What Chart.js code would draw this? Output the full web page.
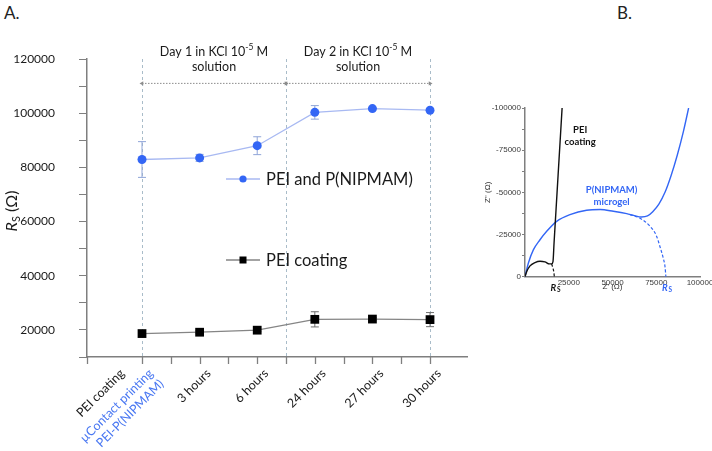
<!DOCTYPE html>
<html>
<head>
<meta charset="utf-8">
<script src="https://cdn.jsdelivr.net/npm/chart.js@4.4.1/dist/chart.umd.min.js"></script>
<style>
  html, body { margin: 0; padding: 0; background: #fff; overflow: hidden; width: 712px; height: 451px; }
  #left { position: absolute; left: 0; top: 0; width: 480px; height: 451px; }
  #right { position: absolute; left: 478px; top: 95px; width: 240px; height: 200px; }
  .panel { position: absolute; font-family: Lato, sans-serif; font-size: 17px; color: #222; }
</style>
</head>
<body>
<div class="panel" style="left:4px;top:2px">A.</div>
<div class="panel" style="left:617px;top:2px">B.</div>
<div id="left"><canvas id="timeChart"></canvas></div>
<div id="right"><canvas id="nyquistChart"></canvas></div>
<script>
// ---- panel A: Rs after each step ----
const stepX = [1, 2, 3, 4, 5, 6];
const stepLabels = [['µContact printing', 'PEI-P(NIPMAM)'], '3 hours', '6 hours', '24 hours', '27 hours', '30 hours'];
const startLabel = 'PEI coating';
const microgelRs = [82900, 83500, 88000, 100300, 101700, 101100];
const microgelErr = [6600, 1300, 3300, 2500, 500, 500];
const coatingRs = [18650, 19150, 19900, 23900, 24000, 23800];
const coatingErr = [500, 500, 500, 2800, 600, 2600];

const dayNames = ['Day 1', 'Day 2'];
const dayStart = [1, 3.5];
const dayEnd = [3.5, 6];
const daySpanRs = 111000;

// ---- panel B: Nyquist curves ----
const coatingZre = [0, 950, 2860, 5700, 8600, 11400, 13900, 15200, 16000, 16600, 17750, 18900, 20050, 21200];
const coatingZim = [0, -3000, -6400, -8400, -9200, -8800, -7600, -7600, -9000, -20000, -40000, -60000, -80000, -100000];
const coatingArcZre = [15200, 16000, 16500, 16760];
const coatingArcZim = [-7600, -5000, -2500, 0];
const microgelZre = [0, 1900, 4760, 8570, 12400, 18100, 25700, 35200, 42900, 50500, 58100, 62500, 66500, 70000, 73000, 76500, 80000, 83500, 87000, 90500, 93500];
const microgelZim = [0, -8000, -15900, -21900, -26900, -32800, -36800, -39400, -39800, -38800, -37400, -36200, -35400, -36000, -38500, -43000, -50000, -60000, -72000, -86000, -100000];
const microgelArcZre = [60000, 66000, 71400, 75000, 77100, 79000, 80000, 80500];
const microgelArcZim = [-36800, -34500, -29900, -24500, -17900, -11000, -6000, 0];

const axisGray = '#7f7f7f';
const seriesBlue = '#3366f5';
const labelBlue = '#4a78f2';
const guideColor = '#a9bcc9';
const xMin = 0.045, xMax = 6.642;
const guideAt = [1, 3.5, 6];

const pts = (xs, ys) => xs.map((v, i) => ({x: v, y: ys[i]}));

// error bars drawn through the chart scales
const errorBars = {
  id: 'errorBars',
  beforeDatasetsDraw(chart) {
    const {ctx, scales: {x, y}} = chart;
    chart.data.datasets.forEach(ds => {
      if (!ds.errors) return;
      ctx.save();
      ctx.strokeStyle = ds.errorColor;
      ctx.lineWidth = 1;
      ds.data.forEach((p, j) => {
        const px = x.getPixelForValue(p.x);
        const top = y.getPixelForValue(p.y + ds.errors[j]);
        const bot = y.getPixelForValue(p.y - ds.errors[j]);
        ctx.beginPath();
        ctx.moveTo(px, top); ctx.lineTo(px, bot);
        ctx.moveTo(px - 4, top); ctx.lineTo(px + 4, top);
        ctx.moveTo(px - 4, bot); ctx.lineTo(px + 4, bot);
        ctx.stroke();
      });
      ctx.restore();
    });
  }
};

// x axis tick marks (drawn on the axis, skipping the spot under "PEI coating")
const xTickMarks = {
  id: 'xTickMarks',
  afterDraw(chart) {
    const {ctx, scales: {x}} = chart;
    ctx.save();
    ctx.strokeStyle = axisGray;
    ctx.lineWidth = 1.3;
    x.ticks.forEach(t => {
      if (t.value === 0.5) return;
      const px = Math.round(x.getPixelForValue(t.value)) + 0.5;
      ctx.beginPath(); ctx.moveTo(px, x.top); ctx.lineTo(px, x.top + 7); ctx.stroke();
    });
    ctx.restore();
  }
};

// "Day n in KCl 10-5 M solution" headers and the floating legend
const panelText = {
  id: 'panelText',
  afterDatasetsDraw(chart) {
    const {ctx, chartArea, scales: {x}} = chart;
    ctx.save();
    ctx.fillStyle = '#1a1a1a';
    ctx.textBaseline = 'middle';
    dayNames.forEach((name, i) => {
      const cx = (x.getPixelForValue(dayStart[i]) + x.getPixelForValue(dayEnd[i])) / 2;
      const main = name + ' in KCl 10', sup = '-5', tail = ' M';
      ctx.font = '12.5px Lato';
      const w1 = ctx.measureText(main).width, w3 = ctx.measureText(tail).width;
      ctx.font = '8.5px Lato';
      const w2 = ctx.measureText(sup).width;
      const left = cx - (w1 + w2 + w3) / 2;
      const y1 = chartArea.top - 7;
      ctx.textAlign = 'left';
      ctx.font = '12.5px Lato';
      ctx.fillText(main, left, y1);
      ctx.fillText(tail, left + w1 + w2, y1);
      ctx.font = '8.5px Lato';
      ctx.fillText(sup, left + w1, y1 - 4.5);
      ctx.textAlign = 'center';
      ctx.font = '12.5px Lato';
      ctx.fillText('solution', cx, chartArea.top + 8);
    });

    // legend entries placed inside the plot like the original
    const spots = [[226, 179], [226, 260]];
    [0, 1].forEach((di, k) => {
      const ds = chart.data.datasets[di];
      const [lx, ly] = spots[k];
      ctx.strokeStyle = ds.borderColor;
      ctx.lineWidth = ds.borderWidth;
      ctx.beginPath(); ctx.moveTo(lx, ly); ctx.lineTo(lx + 34, ly); ctx.stroke();
      ctx.fillStyle = ds.pointBackgroundColor;
      if (ds.pointStyle === 'rect') {
        ctx.fillRect(lx + 17 - 3.5, ly - 3.5, 7, 7);
      } else {
        ctx.beginPath(); ctx.arc(lx + 17, ly, 3.6, 0, Math.PI * 2); ctx.fill();
      }
      ctx.fillStyle = '#1a1a1a';
      ctx.textAlign = 'left';
      ctx.font = '16.5px Lato';
      ctx.fillText(ds.label, lx + 40, ly + 1);
    });

    // y axis title: R_S (Ω)
    ctx.translate(12, 211);
    ctx.rotate(-Math.PI / 2);
    ctx.font = 'italic 16px Lato';
    const wR = ctx.measureText('R').width;
    ctx.font = '11px Lato';
    const wS = ctx.measureText('S').width;
    ctx.font = '16px Lato';
    const wU = ctx.measureText(' (Ω)').width;
    const sx = -(wR + wS + wU) / 2;
    ctx.textAlign = 'left';
    ctx.font = 'italic 16px Lato';
    ctx.fillText('R', sx, 0);
    ctx.font = '11px Lato';
    ctx.fillText('S', sx + wR, 4);
    ctx.font = '16px Lato';
    ctx.fillText(' (Ω)', sx + wR + wS, 0);
    ctx.restore();
  }
};

new Chart(document.getElementById('timeChart'), {
  type: 'line',
  data: {
    datasets: [
      {
        label: 'PEI and P(NIPMAM)',
        data: pts(stepX, microgelRs),
        errors: microgelErr,
        errorColor: '#8fa5d8',
        borderColor: '#a8b9f2',
        borderWidth: 1.3,
        pointStyle: 'circle',
        pointRadius: 4.5,
        pointBackgroundColor: seriesBlue,
        pointBorderWidth: 0,
        tension: 0
      },
      {
        label: 'PEI coating',
        data: pts(stepX, coatingRs),
        errors: coatingErr,
        errorColor: '#6d6d6d',
        borderColor: '#858585',
        borderWidth: 1.3,
        pointStyle: 'rect',
        pointRadius: 6.2,
        pointBackgroundColor: '#000',
        pointBorderWidth: 0,
        tension: 0
      },
      {
        label: 'day1',
        data: pts([dayStart[0], dayEnd[0]], [daySpanRs, daySpanRs]),
        borderColor: '#8c8c8c',
        borderWidth: 1,
        borderDash: [1.5, 1.5],
        pointStyle: 'triangle',
        pointRotation: [-90, 90],
        pointRadius: 2.5,
        pointBackgroundColor: '#8c8c8c',
        pointBorderWidth: 0
      },
      {
        label: 'day2',
        data: pts([dayStart[1], dayEnd[1]], [daySpanRs, daySpanRs]),
        borderColor: '#8c8c8c',
        borderWidth: 1,
        borderDash: [1.5, 1.5],
        pointStyle: 'triangle',
        pointRotation: [-90, 90],
        pointRadius: 2.5,
        pointBackgroundColor: '#8c8c8c',
        pointBorderWidth: 0
      }
    ]
  },
  options: {
    responsive: true,
    maintainAspectRatio: false,
    animation: false,
    layout: { autoPadding: false, padding: { left: 0, top: 59, right: 13, bottom: 0 } },
    plugins: { legend: { display: false }, tooltip: { enabled: false } },
    scales: {
      x: {
        type: 'linear',
        min: xMin,
        max: xMax,
        afterBuildTicks: (scale) => {
          const vals = [xMin];
          for (let v = 0.5; v <= 6; v += 0.5) vals.push(v);
          scale.ticks = vals.map(v => ({ value: v }));
        },
        afterFit: (scale) => { scale.height = 94; },
        border: { color: axisGray, width: 1.5, dash: [3, 3] },
        grid: {
          drawOnChartArea: true,
          drawTicks: true,
          color: (c) => (c.tick && guideAt.includes(c.tick.value)) ? guideColor : 'transparent',
          tickColor: 'transparent',
          tickLength: 6,
          lineWidth: 1
        },
        ticks: {
          autoSkip: false,
          minRotation: 45,
          maxRotation: 45,
          padding: 3,
          labelOffset: 9,
          font: { family: 'Lato', size: 12.5 },
          color: (c) => (c.tick && c.tick.value === 1) ? labelBlue : '#1a1a1a',
          callback: (v) => v === 0.5 ? startLabel : (Number.isInteger(v) && v >= 1 ? stepLabels[v - 1] : '')
        }
      },
      y: {
        min: 10000,
        max: 120000,
        afterFit: (scale) => { scale.width = 87; },
        border: { color: axisGray, width: 1.5 },
        grid: { drawOnChartArea: false, tickColor: axisGray, tickLength: 8 },
        ticks: {
          stepSize: 10000,
          padding: 24,
          font: { family: 'Lato', size: 12 },
          color: '#1a1a1a',
          callback: (v) => (v % 20000 === 0) ? String(v) : ''
        }
      }
    }
  },
  plugins: [errorBars, panelText, xTickMarks]
});

// ---- panel B ----
const nyquistText = {
  id: 'nyquistText',
  afterDatasetsDraw(chart) {
    const {ctx, scales: {x, y}} = chart;
    ctx.save();
    ctx.textAlign = 'center';
    ctx.textBaseline = 'middle';
    ctx.font = 'bold 9.5px Lato';
    ctx.fillStyle = '#111';
    ctx.fillText('PEI', x.getPixelForValue(31500), y.getPixelForValue(-86800));
    ctx.fillText('coating', x.getPixelForValue(31500), y.getPixelForValue(-79600));
    ctx.fillStyle = seriesBlue;
    ctx.fillText('P(NIPMAM)', x.getPixelForValue(49500), y.getPixelForValue(-51500));
    ctx.fillText('microgel', x.getPixelForValue(49500), y.getPixelForValue(-44300));
    // R_S marks under the arc ends
    const marks = [[coatingArcZre[coatingArcZre.length - 1], '#111'], [microgelArcZre[microgelArcZre.length - 1], seriesBlue]];
    marks.forEach(([val, col]) => {
      const px = x.getPixelForValue(val) + 1;
      const py = y.bottom + 11;
      ctx.fillStyle = col;
      ctx.font = 'italic bold 9.5px Lato';
      ctx.fillText('R', px - 2, py);
      ctx.font = 'bold 6.5px Lato';
      ctx.fillText('S', px + 3.5, py + 2.5);
    });
    ctx.restore();
  }
};

new Chart(document.getElementById('nyquistChart'), {
  type: 'line',
  data: {
    datasets: [
      { label: 'PEI coating', data: pts(coatingZre, coatingZim), borderColor: '#111', borderWidth: 1.4 },
      { label: 'PEI coating fit', data: pts(coatingArcZre, coatingArcZim), borderColor: '#111', borderWidth: 1.2, borderDash: [3, 2] },
      { label: 'P(NIPMAM) microgel', data: pts(microgelZre, microgelZim), borderColor: seriesBlue, borderWidth: 1.4 },
      { label: 'P(NIPMAM) fit', data: pts(microgelArcZre, microgelArcZim), borderColor: seriesBlue, borderWidth: 1.2, borderDash: [3, 2] }
    ]
  },
  options: {
    responsive: true,
    maintainAspectRatio: false,
    animation: false,
    layout: { autoPadding: false, padding: { left: 0, top: 13, right: 18, bottom: 0 } },
    elements: { point: { radius: 0 }, line: { cubicInterpolationMode: 'monotone' } },
    plugins: { legend: { display: false }, tooltip: { enabled: false } },
    scales: {
      x: {
        type: 'linear',
        min: 0,
        max: 100000,
        afterFit: (scale) => { scale.height = 18.3; },
        border: { color: axisGray, width: 1.5 },
        grid: { drawOnChartArea: false, drawTicks: false },
        ticks: {
          stepSize: 25000,
          padding: 1,
          maxRotation: 0,
          font: { family: 'Liberation Sans', size: 8 },
          color: '#3a3a3a',
          callback: (v) => v === 0 ? '' : String(v)
        },
        title: { display: true, text: "Z' (Ω)", font: { family: 'Liberation Sans', size: 8 }, color: '#333', padding: { top: 0, bottom: 3 } }
      },
      y: {
        min: -100000,
        max: 0,
        reverse: true,
        afterFit: (scale) => { scale.width = 47; },
        border: { color: axisGray, width: 1.5 },
        grid: { drawOnChartArea: false, tickColor: axisGray, tickLength: 3 },
        ticks: {
          stepSize: 12500,
          padding: 1,
          font: { family: 'Liberation Sans', size: 8 },
          color: '#3a3a3a',
          callback: (v) => (v % 25000 === 0) ? String(v) : ''
        },
        title: { display: true, text: "Z'' (Ω)", font: { family: 'Liberation Sans', size: 8 }, color: '#333', padding: { top: 5, bottom: 0 } }
      }
    }
  },
  plugins: [nyquistText]
});
</script>
</body>
</html>
